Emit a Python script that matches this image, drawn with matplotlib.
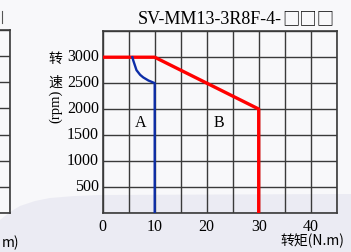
import matplotlib
matplotlib.use('Agg')
import matplotlib.pyplot as plt
from matplotlib.patches import Polygon
from matplotlib.lines import Line2D

# данные кривых
red_torque = [0, 10, 30, 30]
red_speed = [3000, 3000, 2000, 0]
blue_torque = [5.7, 5.9, 6.5, 7.2, 7.8, 8.8, 10, 10]
blue_speed = [3000, 2930, 2750, 2660, 2610, 2550, 2500, 0]
x_ticks = [0, 10, 20, 30, 40]
y_ticks = [500, 1000, 1500, 2000, 2500, 3000]
grid_x = [0, 5, 10, 15, 20, 25, 30, 35, 40, 45]
grid_y = [0, 500, 1000, 1500, 2000, 2500, 3000, 3500]

serif = ['Liberation Serif', 'DejaVu Serif']
cjk = ['Noto Sans CJK SC', 'DejaVu Sans']
W, H = 351, 252
grid_col = '#3a3a3a'

fig = plt.figure(figsize=(W / 100, H / 100), dpi=100)
fig.patch.set_facecolor('#f8f8fa')

# фоновая "волна" снизу
wave = [(0, 220), (10, 212), (20, 206), (35, 201), (50, 198), (75, 196),
        (100, 195), (351, 194), (351, 252), (0, 252)]
fig.patches.append(Polygon([(x / W, 1 - y / H) for x, y in wave], closed=True,
                           transform=fig.transFigure, facecolor='#ebebf3',
                           edgecolor='none', zorder=-5))


def setup(ax):
    ax.set_facecolor('none')
    ax.set_zorder(2)
    ax.set_xlim(0, 45)
    ax.set_ylim(0, 3500)
    ax.set_xticks(grid_x)
    ax.set_yticks(grid_y)
    ax.grid(True, color=grid_col, linewidth=1.0)
    ax.tick_params(length=0, labelleft=False, labelbottom=False)
    for s in ax.spines.values():
        s.set_color(grid_col)
        s.set_linewidth(1.2)


# кусок соседнего графика слева
ax0 = fig.add_axes([(10 - 234) / W, (H - 213) / H, 234 / W, 183 / H])
setup(ax0)

# основной график
ax = fig.add_axes([102.7 / W, (H - 212.7) / H, 234 / W, 181.4 / H])
setup(ax)
ax.plot(red_torque, red_speed, color='#ff0000', linewidth=2.4, zorder=3)
ax.plot(blue_torque, blue_speed, color='#0d2ea8', linewidth=1.7, zorder=3)

for t in x_ticks:
    ax.text(t, -120, str(t), ha='center', va='top', fontsize=11.5, family=serif)
for v in y_ticks:
    ax.text(-0.7, v, str(v), ha='right', va='center', fontsize=11.5, family=serif)

ax.text(7.3, 1730, 'A', ha='center', va='center', fontsize=11.5, family=serif)
ax.text(22.4, 1730, 'B', ha='center', va='center', fontsize=11.5, family=serif)

# заголовок: латиница + квадратики
boxes = fig.text(334 / W, 1 - 19 / H, '□□□', ha='right', va='center',
                 fontsize=12.5, family=cjk)
ax.annotate('SV-MM13-3R8F-4-', xy=(0, 0.5), xycoords=boxes, ha='right',
            va='center', fontsize=13, family=serif, annotation_clip=False)
# край квадратика от соседнего графика
fig.lines.append(Line2D([2 / W, 2 / W], [1 - 11 / H, 1 - 23 / H],
                        transform=fig.transFigure, color='#555555', linewidth=0.8))

# подписи осей
fig.text(55.5 / W, 1 - 58.5 / H, '转', ha='center', va='center', fontsize=10, family=cjk)
fig.text(55.5 / W, 1 - 83 / H, '速', ha='center', va='center', fontsize=10, family=cjk)
fig.text(55.5 / W, 1 - 106 / H, '(rpm)', ha='center', va='center', fontsize=10.5,
         rotation=90, family=serif)
fig.text(344 / W, 1 - 241 / H, '转矩(N.m)', ha='right', va='center', fontsize=10,
         family=cjk)
fig.text(2 / W, 1 - 243 / H, 'm)', ha='left', va='center', fontsize=10, family=cjk)

fig.savefig('out.png', dpi=100, facecolor=fig.get_facecolor())
